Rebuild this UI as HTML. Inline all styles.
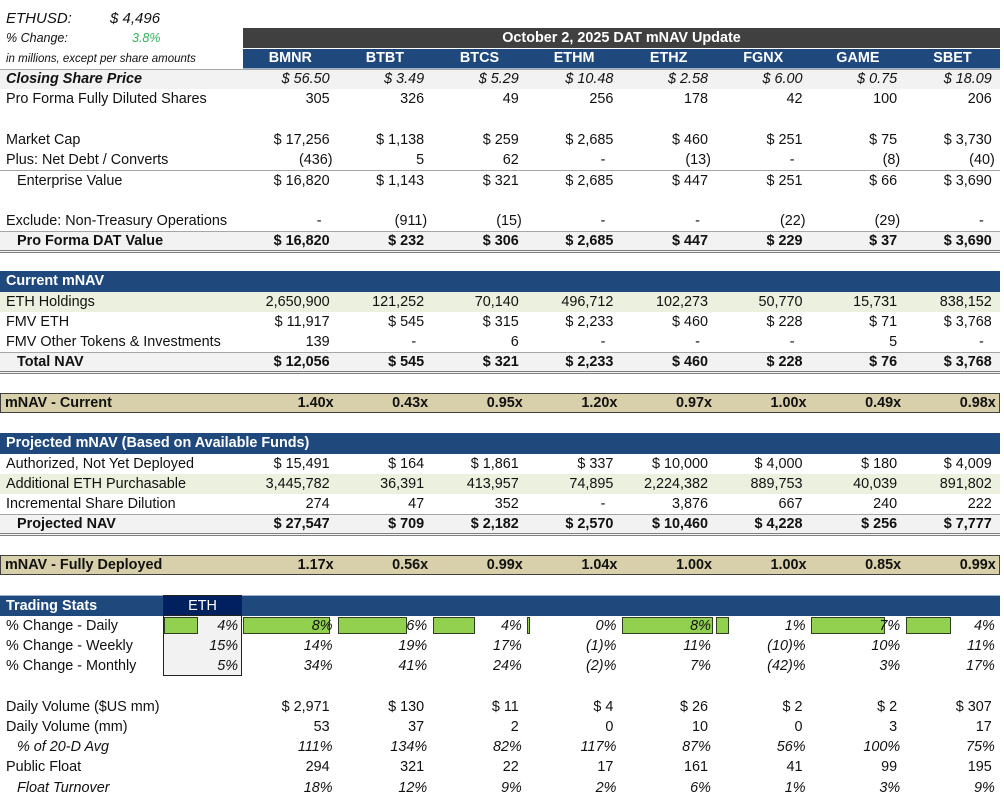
<!DOCTYPE html>
<html><head><meta charset="utf-8">
<style>
*{margin:0;padding:0;box-sizing:border-box}
body{width:1004px;height:800px;background:#fff;font-family:"Liberation Sans",sans-serif;font-size:14.4px;color:#111;position:relative;overflow:hidden}
.r{position:absolute;left:0;width:1000px;height:20.25px;display:flex;align-items:center;white-space:nowrap}
.l{width:243px;padding-left:6px;flex:none}
.c{width:94.6px;flex:none;text-align:right;padding-right:8px}
.c.p{padding-right:5px}
.c.d{padding-right:16px}
.b{font-weight:bold}
.i{font-style:italic}
.g{background:#f2f2f2}
.gr{background:#ebf1de}
.blue{background:#1f497d;color:#fff;font-weight:bold}
.tan{background:#d8d0aa;border:1.5px solid #404040;font-weight:bold}
.tl{border-top:1px solid #a6a6a6}
.dbl{border-bottom:3px double #808080}
.ind{padding-left:17px}
.bar{position:absolute;top:617px;height:17px;background:#92d050;border:1px solid #2f3f1f}
</style></head><body>

<div class="r i" style="top:8px;font-size:15px"><span style="padding-left:6px;width:110px">ETHUSD:</span><span>$ 4,496</span></div>
<div class="r i" style="top:28px;font-size:12.5px"><span style="padding-left:6px;width:132px">% Change:</span><span style="color:#2fb45a">3.8%</span></div>
<div style="position:absolute;left:243px;top:28px;width:757px;height:20px;background:#404040;color:#fff;font-weight:bold;text-align:center;line-height:20px">October 2, 2025 DAT mNAV Update</div>
<div class="r i" style="top:48.5px;font-size:11.5px"><span style="padding-left:6px">in millions, except per share amounts</span></div>
<div class="r blue" style="top:48.5px;left:243px;width:757px;height:20px;border-bottom:1px solid #9db3d0">
<span style="width:94.6px;text-align:center">BMNR</span><span style="width:94.6px;text-align:center">BTBT</span><span style="width:94.6px;text-align:center">BTCS</span><span style="width:94.6px;text-align:center">ETHM</span><span style="width:94.6px;text-align:center">ETHZ</span><span style="width:94.6px;text-align:center">FGNX</span><span style="width:94.6px;text-align:center">GAME</span><span style="width:94.6px;text-align:center">SBET</span></div>

<div class="r g i tl" style="top:68.75px"><span class="l b">Closing Share Price</span><span class="c">$ 56.50</span><span class="c">$ 3.49</span><span class="c">$ 5.29</span><span class="c">$ 10.48</span><span class="c">$ 2.58</span><span class="c">$ 6.00</span><span class="c">$ 0.75</span><span class="c">$ 18.09</span></div>
<div class="r" style="top:89px"><span class="l">Pro Forma Fully Diluted Shares</span><span class="c">305</span><span class="c">326</span><span class="c">49</span><span class="c">256</span><span class="c">178</span><span class="c">42</span><span class="c">100</span><span class="c">206</span></div>

<div class="r" style="top:129.5px"><span class="l">Market Cap</span><span class="c">$ 17,256</span><span class="c">$ 1,138</span><span class="c">$ 259</span><span class="c">$ 2,685</span><span class="c">$ 460</span><span class="c">$ 251</span><span class="c">$ 75</span><span class="c">$ 3,730</span></div>
<div class="r" style="top:149.75px"><span class="l">Plus: Net Debt / Converts</span><span class="c p">(436)</span><span class="c">5</span><span class="c">62</span><span class="c d">-</span><span class="c p">(13)</span><span class="c d">-</span><span class="c p">(8)</span><span class="c p">(40)</span></div>
<div class="r tl" style="top:170px"><span class="l ind">Enterprise Value</span><span class="c">$ 16,820</span><span class="c">$ 1,143</span><span class="c">$ 321</span><span class="c">$ 2,685</span><span class="c">$ 447</span><span class="c">$ 251</span><span class="c">$ 66</span><span class="c">$ 3,690</span></div>

<div class="r" style="top:210.5px"><span class="l">Exclude: Non-Treasury Operations</span><span class="c d">-</span><span class="c p">(911)</span><span class="c p">(15)</span><span class="c d">-</span><span class="c d">-</span><span class="c p">(22)</span><span class="c p">(29)</span><span class="c d">-</span></div>
<div class="r g b tl dbl" style="top:230.75px;height:22px"><span class="l ind">Pro Forma DAT Value</span><span class="c">$ 16,820</span><span class="c">$ 232</span><span class="c">$ 306</span><span class="c">$ 2,685</span><span class="c">$ 447</span><span class="c">$ 229</span><span class="c">$ 37</span><span class="c">$ 3,690</span></div>

<div class="r blue" style="top:271.25px"><span class="l">Current mNAV</span></div>
<div class="r gr" style="top:291.5px"><span class="l">ETH Holdings</span><span class="c">2,650,900</span><span class="c">121,252</span><span class="c">70,140</span><span class="c">496,712</span><span class="c">102,273</span><span class="c">50,770</span><span class="c">15,731</span><span class="c">838,152</span></div>
<div class="r" style="top:311.75px"><span class="l">FMV ETH</span><span class="c">$ 11,917</span><span class="c">$ 545</span><span class="c">$ 315</span><span class="c">$ 2,233</span><span class="c">$ 460</span><span class="c">$ 228</span><span class="c">$ 71</span><span class="c">$ 3,768</span></div>
<div class="r" style="top:332px"><span class="l">FMV Other Tokens &amp; Investments</span><span class="c">139</span><span class="c d">-</span><span class="c">6</span><span class="c d">-</span><span class="c d">-</span><span class="c d">-</span><span class="c">5</span><span class="c d">-</span></div>
<div class="r g b tl dbl" style="top:352.25px;height:22px"><span class="l ind">Total NAV</span><span class="c">$ 12,056</span><span class="c">$ 545</span><span class="c">$ 321</span><span class="c">$ 2,233</span><span class="c">$ 460</span><span class="c">$ 228</span><span class="c">$ 76</span><span class="c">$ 3,768</span></div>

<div class="r tan" style="top:392.75px"><span class="l" style="padding-left:4px">mNAV - Current</span><span class="c p">1.40x</span><span class="c p">0.43x</span><span class="c p">0.95x</span><span class="c p">1.20x</span><span class="c p">0.97x</span><span class="c p">1.00x</span><span class="c p">0.49x</span><span class="c p">0.98x</span></div>

<div class="r blue" style="top:433.25px"><span class="l" style="width:400px">Projected mNAV (Based on Available Funds)</span></div>
<div class="r" style="top:453.5px"><span class="l">Authorized, Not Yet Deployed</span><span class="c">$ 15,491</span><span class="c">$ 164</span><span class="c">$ 1,861</span><span class="c">$ 337</span><span class="c">$ 10,000</span><span class="c">$ 4,000</span><span class="c">$ 180</span><span class="c">$ 4,009</span></div>
<div class="r gr" style="top:473.75px"><span class="l">Additional ETH Purchasable</span><span class="c">3,445,782</span><span class="c">36,391</span><span class="c">413,957</span><span class="c">74,895</span><span class="c">2,224,382</span><span class="c">889,753</span><span class="c">40,039</span><span class="c">891,802</span></div>
<div class="r" style="top:494px"><span class="l">Incremental Share Dilution</span><span class="c">274</span><span class="c">47</span><span class="c">352</span><span class="c d">-</span><span class="c">3,876</span><span class="c">667</span><span class="c">240</span><span class="c">222</span></div>
<div class="r g b tl dbl" style="top:514.25px;height:22px"><span class="l ind">Projected NAV</span><span class="c">$ 27,547</span><span class="c">$ 709</span><span class="c">$ 2,182</span><span class="c">$ 2,570</span><span class="c">$ 10,460</span><span class="c">$ 4,228</span><span class="c">$ 256</span><span class="c">$ 7,777</span></div>

<div class="r tan" style="top:554.75px"><span class="l" style="padding-left:4px">mNAV - Fully Deployed</span><span class="c p">1.17x</span><span class="c p">0.56x</span><span class="c p">0.99x</span><span class="c p">1.04x</span><span class="c p">1.00x</span><span class="c p">1.00x</span><span class="c p">0.85x</span><span class="c p">0.99x</span></div>

<div class="r blue" style="top:595.25px;border-top:1px solid #9db3d0"><span class="l">Trading Stats</span></div>
<div style="position:absolute;left:163px;top:595.25px;width:79px;height:81px;border:1px solid #222;background:#f2f2f2"></div>
<div style="position:absolute;left:163px;top:595.25px;width:79px;height:20.25px;background:#002060;color:#fff;text-align:center;line-height:20px;border:1px solid #222">ETH</div>

<div class="bar" style="left:164px;width:34px"></div>
<div class="bar" style="left:243px;width:87px"></div>
<div class="bar" style="left:338px;width:69px"></div>
<div class="bar" style="left:433px;width:42px"></div>
<div class="bar" style="left:527px;width:3px"></div>
<div class="bar" style="left:622px;width:91px"></div>
<div class="bar" style="left:716px;width:13px"></div>
<div class="bar" style="left:811px;width:74px"></div>
<div class="bar" style="left:906px;width:45px"></div>

<div class="r" style="top:615.5px"><span class="l" style="width:163px">% Change - Daily</span><span class="i" style="width:80px;text-align:right;padding-right:5px">4%</span><span class="c p i">8%</span><span class="c p i">6%</span><span class="c p i">4%</span><span class="c p i">0%</span><span class="c p i">8%</span><span class="c p i">1%</span><span class="c p i">7%</span><span class="c p i">4%</span></div>
<div class="r" style="top:635.75px"><span class="l" style="width:163px">% Change - Weekly</span><span class="i" style="width:80px;text-align:right;padding-right:5px">15%</span><span class="c p i">14%</span><span class="c p i">19%</span><span class="c p i">17%</span><span class="c p i">(1)%</span><span class="c p i">11%</span><span class="c p i">(10)%</span><span class="c p i">10%</span><span class="c p i">11%</span></div>
<div class="r" style="top:656px"><span class="l" style="width:163px">% Change - Monthly</span><span class="i" style="width:80px;text-align:right;padding-right:5px">5%</span><span class="c p i">34%</span><span class="c p i">41%</span><span class="c p i">24%</span><span class="c p i">(2)%</span><span class="c p i">7%</span><span class="c p i">(42)%</span><span class="c p i">3%</span><span class="c p i">17%</span></div>

<div class="r" style="top:696.5px"><span class="l">Daily Volume ($US mm)</span><span class="c">$ 2,971</span><span class="c">$ 130</span><span class="c">$ 11</span><span class="c">$ 4</span><span class="c">$ 26</span><span class="c">$ 2</span><span class="c">$ 2</span><span class="c">$ 307</span></div>
<div class="r" style="top:716.75px"><span class="l">Daily Volume (mm)</span><span class="c">53</span><span class="c">37</span><span class="c">2</span><span class="c">0</span><span class="c">10</span><span class="c">0</span><span class="c">3</span><span class="c">17</span></div>
<div class="r i" style="top:737px"><span class="l ind">% of 20-D Avg</span><span class="c p">111%</span><span class="c p">134%</span><span class="c p">82%</span><span class="c p">117%</span><span class="c p">87%</span><span class="c p">56%</span><span class="c p">100%</span><span class="c p">75%</span></div>
<div class="r" style="top:757.25px"><span class="l">Public Float</span><span class="c">294</span><span class="c">321</span><span class="c">22</span><span class="c">17</span><span class="c">161</span><span class="c">41</span><span class="c">99</span><span class="c">195</span></div>
<div class="r i" style="top:777.5px"><span class="l ind">Float Turnover</span><span class="c p">18%</span><span class="c p">12%</span><span class="c p">9%</span><span class="c p">2%</span><span class="c p">6%</span><span class="c p">1%</span><span class="c p">3%</span><span class="c p">9%</span></div>
</body></html>
